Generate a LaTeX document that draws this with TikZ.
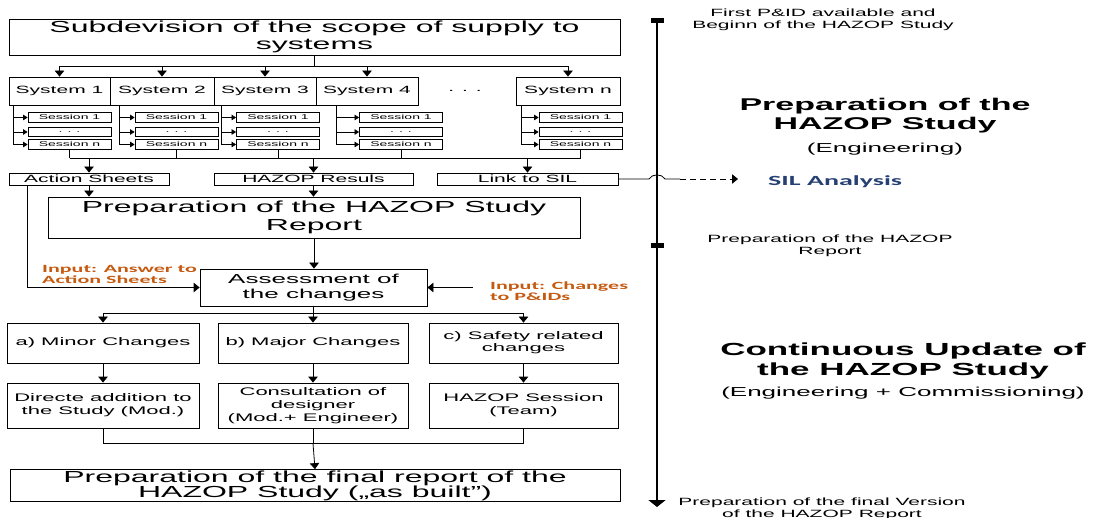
\documentclass[tikz,border=0pt]{standalone}
\usepackage{fontspec}
\setmainfont{Liberation Sans}[FakeStretch=2.0]
\newfontfamily\calibfont{Carlito}[FakeStretch=2.0]
\usetikzlibrary{arrows.meta, calc, positioning}
\definecolor{inputorange}{RGB}{197,90,17}
\definecolor{silblue}{RGB}{38,64,115}
\newcommand{\fs}[2]{\fontsize{#1}{#2}\selectfont}

\begin{document}
\begin{tikzpicture}[x=1pt, y=-1pt,
    box/.style={draw, line width=0.8pt, align=center, inner sep=1pt},
    flow/.style={-{Triangle[length=6pt,width=9.5pt]}, line width=0.8pt},
    sflow/.style={-{Triangle[length=4.5pt,width=5.5pt]}, line width=0.7pt},
    note/.style={align=center, inner sep=0pt},
    inlabel/.style={align=left, inner sep=0pt, text=inputorange,
                    font=\calibfont\bfseries\fs{11}{11.5}}]
  \useasboundingbox (0,0) rectangle (1094,518);
  %---- Scope of supply split into systems ------------------------------------
  \node[box, minimum width=611, minimum height=36, font=\fs{16}{17}] (subdiv)
    at (314.5,37) {Subdevision of the scope of supply to\\systems};
  \foreach \n/\cx/\w/\lab in {sys1/59.5/101/1, sys2/162/104/2, sys3/265/102/3,
                              sys4/367/102/4, sysn/568/104/n}
    \node[box, minimum width=\w, minimum height=28, font=\fs{10.5}{12}] (\n)
      at (\cx,91) {System \lab};
  \node[font=\fs{10.5}{12}] (sysdots) at (465,91) {.\hspace{8pt}.\hspace{8pt}.};
  \draw[line width=0.8pt] (subdiv.south) -- ++(0,11) coordinate (split1);
  \draw[line width=0.8pt] (sys1.north |- split1) -- (sysn.north |- split1);
  \foreach \n in {sys1, sys2, sys3, sys4, sysn}
    \draw[flow] (\n.north |- split1) -- (\n.north);
  %---- Sessions per system ---------------------------------------------------
  \foreach \n/\off/\bx in {sys1/5/69.5, sys2/10/176.5, sys3/8/278,
                           sys4/21/401, sysn/6/580.5}{
    \coordinate (\n-v) at ([xshift=\off pt]\n.south west);
    \node[box, inner sep=0pt, minimum width=83, minimum height=9.5, font=\fs{7}{8}]
      (\n-a) at (\bx,117.5) {Session 1};
    \node[box, inner sep=0pt, minimum width=83, minimum height=9.5, font=\fs{7}{8}]
      (\n-b) at (\bx,132) {.\hspace{5pt}.\hspace{5pt}.};
    \node[box, inner sep=0pt, minimum width=83, minimum height=9.5, font=\fs{7}{8}]
      (\n-c) at (\bx,144.5) {Session n};
    \draw[sflow] (\n-v) |- (\n-c.west);
    \draw[sflow] (\n-v |- \n-a.west) -- (\n-a.west);
    \draw[sflow] (\n-v |- \n-b.west) -- (\n-b.west);
    \draw[line width=0.8pt] (\n-c.south) -- ++(0,8.75) coordinate (\n-d);
  }
  \draw[line width=0.8pt] (sys1-d) -- (sysn-d);
  %---- Results of the sessions -----------------------------------------------
  \node[box, minimum width=160, minimum height=12, font=\fs{10.5}{12}] (act)
    at (89,179) {Action Sheets};
  \node[box, minimum width=199, minimum height=12, font=\fs{10.5}{12}] (res)
    at (313.5,179) {HAZOP Resuls};
  \node[box, minimum width=181, minimum height=12, font=\fs{10.5}{12}] (sil)
    at (527.5,179) {Link to SIL};
  \foreach \n in {act, res, sil}
    \draw[flow] (\n.north |- sys1-d) -- (\n.north);
  \node[box, minimum width=532, minimum height=41, font=\fs{16}{18}] (prep)
    at (314,217.5) {Preparation of the HAZOP Study\\Report};
  \draw[flow] (act.south) -- (act.south |- prep.north);
  \draw[flow] (res.south) -- (res.south |- prep.north);
  %---- Assessment of changes -------------------------------------------------
  \node[box, minimum width=227, minimum height=37, font=\fs{13}{15}] (assess)
    at (313.5,287.5) {Assessment of\\the changes};
  \draw[flow] (prep.south) -- (prep.south |- assess.north);
  \draw[flow] ([xshift=19pt]act.south west) |- (assess.west);
  \coordinate (pidin) at (473,287.5);
  \draw[flow] (pidin) -- (assess.east);
  \node[inlabel, anchor=west] (ansin) at (42,274.5) {Input: Answer to\\Action Sheets};
  \node[inlabel, anchor=west] (chgin) at (490,291) {Input: Changes\\to P\&IDs};
  \draw[line width=0.8pt] (assess.south) -- ++(0,7) coordinate (split2);
  \draw[line width=0.8pt] (104,313) -- (524,313);
  \foreach \n/\cx/\w/\txt/\act in {
      cha/103/192/{a) Minor Changes}/{Directe addition to\\the Study (Mod.)},
      chb/313/190/{b) Major Changes}/{Consultation of\\designer\\(Mod.+ Engineer)},
      chc/523.5/189/{c) Safety related\\changes}/{HAZOP Session\\(Team)}}{
    \node[box, minimum width=\w, minimum height=40, font=\fs{11}{12}] (\n)
      at (\cx,343) {\txt};
    \node[box, minimum width=\w, minimum height=45, font=\fs{11}{13}] (\n-act)
      at (\cx,405.5) {\act};
    \draw[flow] (\n.north |- split2) -- (\n.north);
    \draw[flow] (\n.south) -- (\n-act.north);
  }
  %---- Final report ----------------------------------------------------------
  \node[box, minimum width=610, minimum height=31, font=\fs{16}{15}] (final)
    at (315,485.5) {Preparation of the final report of the\\HAZOP Study („as built")};
  \draw[line width=0.8pt] (cha-act.south) -- ++(0,15) coordinate (merge1)
    -- (chc-act.south |- merge1) -- (chc-act.south);
  \draw[line width=0.8pt] (chb-act.south) -- (chb-act.south |- merge1);
  \draw[flow] (chb-act.south |- merge1) -- (final.north);
  %---- Time line -------------------------------------------------------------
  \coordinate (tl-top) at (657,21);
  \coordinate (tl-mid) at (657,246);
  \coordinate (tl-end) at (657,507);
  \draw[line width=2.5pt, -{Triangle[length=7pt,width=17pt]}] (tl-top) -- (tl-end);
  \foreach \t in {tl-top, tl-mid}
    \fill ([shift={(-6.5,-2.5)}]\t) rectangle ([shift={(6.5,2.5)}]\t);
  \coordinate (silend) at (738,179);
  \draw[line width=0.8pt] (sil.east) -- (649,179) .. controls (652,173.5) and (662,173.5)
    .. (665,179) -- (680,179) coordinate (silsplit);
  \draw[flow, dash pattern=on 6pt off 4pt] (silsplit) -- (silend);
  \node[anchor=west, inner sep=0pt, text=silblue, font=\calibfont\bfseries\fs{14}{16}]
    (silan) at (768,182) {SIL Analysis};
  %---- Phases and milestones -------------------------------------------------
  \node[note, font=\fs{10.5}{12}] (begin) at (823,20)
    {First P\&ID available and\\Beginn of the HAZOP Study};
  \node[note, font=\bfseries\fs{17}{19}] (phase1) at (885,115.5)
    {Preparation of the\\HAZOP Study};
  \node[note, font=\fs{13}{15}] (phase1sub) at (885,149) {(Engineering)};
  \node[note, font=\fs{10.5}{12}] (repmark) at (830,246)
    {Preparation of the HAZOP\\Report};
  \node[note, font=\bfseries\fs{17.5}{20}] (phase2) at (903,360.5)
    {Continuous Update of\\the HAZOP Study};
  \node[note, font=\fs{13}{15}] (phase2sub) at (903,393)
    {(Engineering + Commissioning)};
  \node[note, font=\fs{10.5}{12}] (finmark) at (822,509)
    {Preparation of the final Version\\of the HAZOP Report};
\end{tikzpicture}
\end{document}
